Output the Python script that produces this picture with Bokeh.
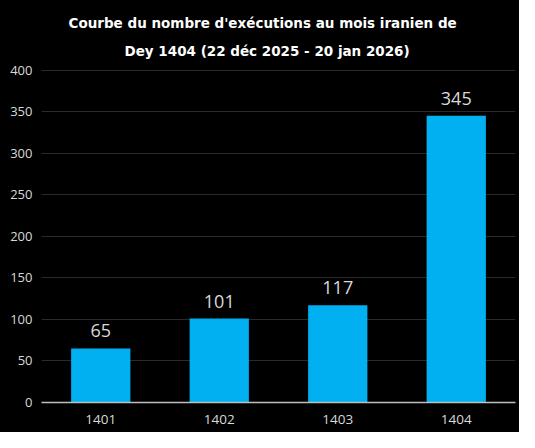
from bokeh.plotting import figure
from bokeh.models import ColumnDataSource, FixedTicker, Range1d, Title
from bokeh.core.properties import value
from bokeh.embed import file_html
from bokeh.resources import INLINE

years = ["1401", "1402", "1403", "1404"]
executions = [65, 101, 117, 345]
labels = [str(v) for v in executions]
y_ticks = [0, 50, 100, 150, 200, 250, 300, 350, 400]
title_line1 = "Courbe du nombre d'exécutions au mois iranien de"
title_line2 = "Dey 1404 (22 déc 2025 - 20 jan 2026)"

src = ColumnDataSource(dict(x=years, y=executions, label=labels))

p = figure(x_range=years, y_range=Range1d(0, 402),
           frame_width=474, frame_height=334,
           min_border_left=41, min_border_right=4, min_border_bottom=30, min_border_top=68,
           output_backend="svg", toolbar_location=None,
           background_fill_color="black", border_fill_color="black")
p.outline_line_color = None
p.styles = {"background-color": "black"}

for txt, so, off in [(title_line2, 20, 83), (title_line1, 0, 27)]:
    t = Title(text=txt, align="left", text_color="white", text_font="DejaVu Sans",
              text_font_size="13.5px", text_font_style="bold", standoff=so, offset=off)
    p.add_layout(t, "above")

p.vbar(x="x", top="y", width=0.5, source=src, color="#00B0F0", line_color=None)
p.text(x="x", y="y", text="label", source=src, y_offset=-11,
       text_align="center", text_baseline="bottom",
       text_font=value("Open Sans"), text_font_size="18px", text_color="#d9d9d9")

p.xgrid.grid_line_color = None
p.ygrid.grid_line_color = "#2a2a2a"
p.ygrid.grid_line_width = 1

p.yaxis.ticker = FixedTicker(ticks=y_ticks)
p.yaxis.axis_line_color = None
p.yaxis.major_tick_line_color = None
p.yaxis.major_tick_out = 0
p.yaxis.minor_tick_line_color = None
p.yaxis.minor_tick_out = 0
p.yaxis.major_label_text_color = "#d9d9d9"
p.yaxis.major_label_text_font = "Open Sans"
p.yaxis.major_label_text_font_size = "13px"
p.yaxis.major_label_standoff = 9

p.xaxis.axis_line_color = "#bfbfbf"
p.xaxis.axis_line_width = 1.5
p.xaxis.major_tick_line_color = None
p.xaxis.major_tick_out = 0
p.xaxis.minor_tick_line_color = None
p.xaxis.minor_tick_out = 0
p.xaxis.major_label_text_color = "#d9d9d9"
p.xaxis.major_label_text_font = "Open Sans"
p.xaxis.major_label_text_font_size = "13.5px"
p.xaxis.major_label_standoff = 12

open("out.html", "w").write(file_html(p, INLINE))
